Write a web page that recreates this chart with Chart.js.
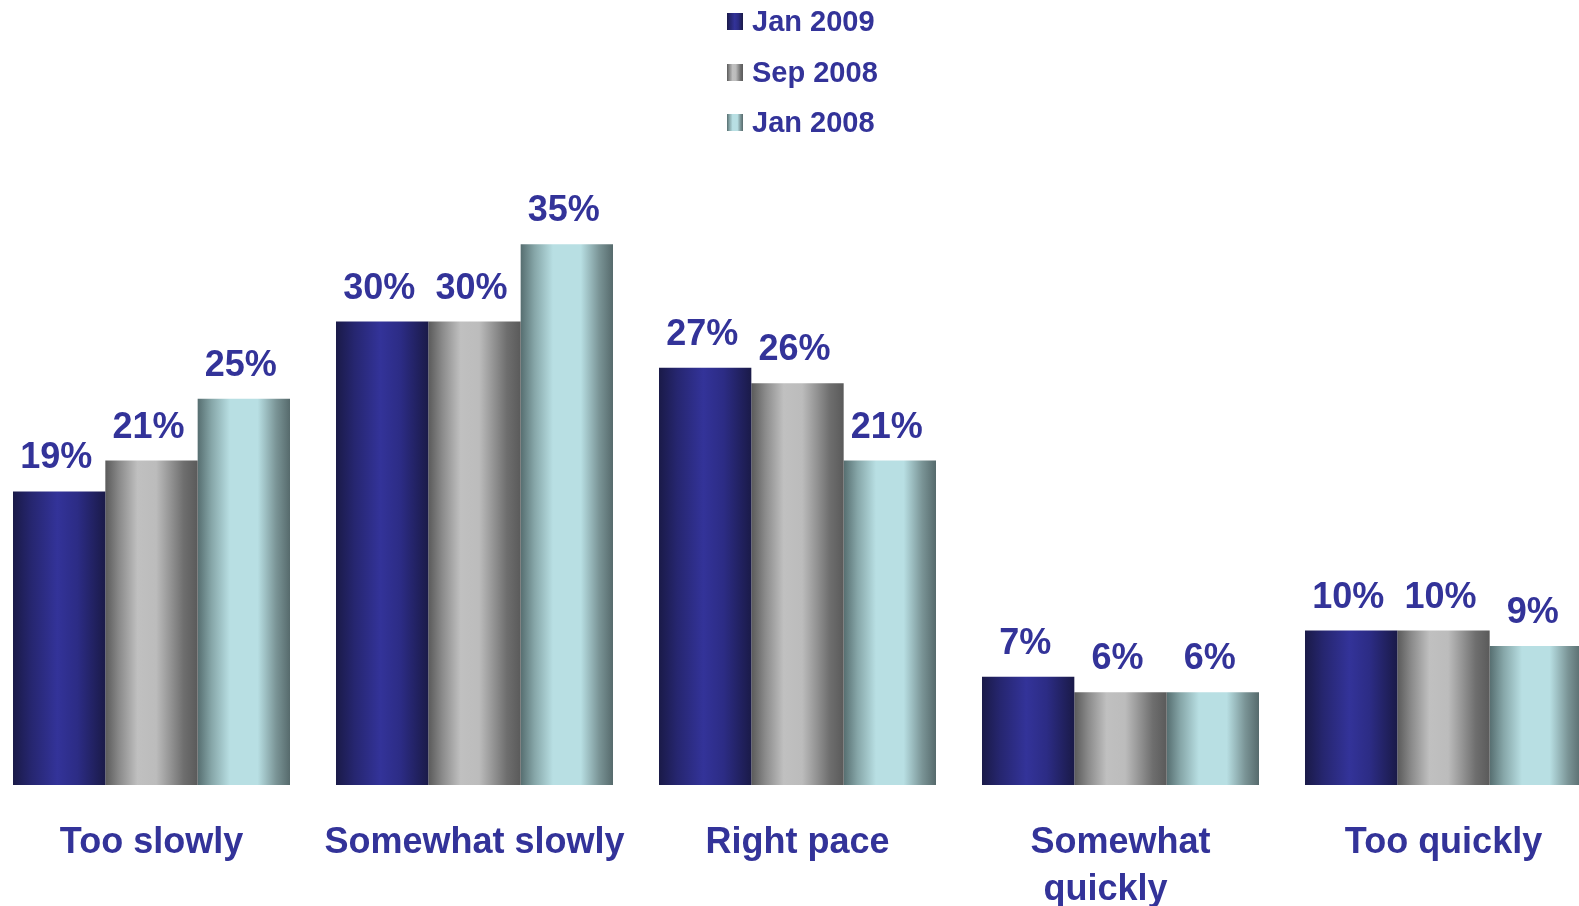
<!DOCTYPE html>
<html>
<head>
<meta charset="utf-8">
<script src="https://cdn.jsdelivr.net/npm/chart.js@4.4.1/dist/chart.umd.min.js"></script>
<style>
  html, body { margin: 0; padding: 0; background: #ffffff; overflow: hidden; }
  body { width: 1579px; height: 906px; position: relative; font-family: "Liberation Sans", Arial, sans-serif; }
  #wrap { position: absolute; left: -10px; top: 0; width: 1615px; height: 906px; }
  #legend { position: absolute; left: 727px; top: 0; }
  .lg-row { position: absolute; left: 0; white-space: nowrap; height: 40px; }
  .lg-box { position: absolute; left: 0; width: 16px; height: 17px; }
  .lg-text { position: absolute; left: 25px; top: 0; font: bold 29px "Liberation Sans", Arial, sans-serif; line-height: 32px; color: #333399; }
</style>
</head>
<body>
<div id="wrap"><canvas id="c"></canvas></div>
<div id="legend"></div>
<script>
const categories = ["Too slowly", "Somewhat slowly", "Right pace", ["Somewhat", "quickly   "], "Too quickly"];
const seriesNames = ["Jan 2009", "Sep 2008", "Jan 2008"];
const jan2009 = [19, 30, 27, 7, 10];
const sep2008 = [21, 30, 26, 6, 10];
const jan2008 = [25, 35, 21, 6, 9];

const gradientStops = [
  [[0, "#1a1a48"], [0.2, "#262670"], [0.48, "#333399"], [0.7, "#2c2c85"], [1, "#1a1a48"]],
  [[0, "#5a5a5a"], [0.15, "#8a8a8a"], [0.35, "#c0c0c0"], [0.55, "#bcbcbc"], [0.85, "#6e6e6e"], [1, "#5a5a5a"]],
  [[0, "#566e70"], [0.15, "#86a6a8"], [0.35, "#b8dfe3"], [0.65, "#b8dfe3"], [0.85, "#7a9496"], [1, "#566a6c"]]
];
const textColor = "#333399";

function makeGradient(ctx, x0, x1, stops) {
  const g = ctx.createLinearGradient(x0, 0, x1, 0);
  stops.forEach(s => g.addColorStop(s[0], s[1]));
  return g;
}

const gradientBars = {
  id: "gradientBars",
  beforeDatasetsDraw(chart) {
    const ctx = chart.ctx;
    chart.data.datasets.forEach((ds, di) => {
      const meta = chart.getDatasetMeta(di);
      meta.data.forEach(el => {
        const left = el.x - el.width / 2;
        const right = el.x + el.width / 2;
        const g = makeGradient(ctx, left, right, gradientStops[di]);
        el.options = Object.assign({}, el.options, { backgroundColor: g });
      });
    });
  }
};

const valueLabels = {
  id: "valueLabels",
  afterDatasetsDraw(chart) {
    const ctx = chart.ctx;
    ctx.save();
    ctx.font = "bold 36px 'Liberation Sans', Arial, sans-serif";
    ctx.fillStyle = textColor;
    ctx.textAlign = "center";
    ctx.textBaseline = "alphabetic";
    chart.data.datasets.forEach((ds, di) => {
      const meta = chart.getDatasetMeta(di);
      meta.data.forEach((el, i) => {
        ctx.fillText(ds.data[i] + "%", el.x - 3, el.y - 23);
      });
    });
    ctx.restore();
  }
};

const seriesData = [jan2009, sep2008, jan2008];
const chart = new Chart(document.getElementById("c"), {
  type: "bar",
  data: {
    labels: categories,
    datasets: seriesNames.map((name, i) => ({
      label: name,
      data: seriesData[i],
      backgroundColor: gradientStops[i][2][1],
      borderWidth: 0,
      categoryPercentage: 0.8576,
      barPercentage: 1.0
    }))
  },
  options: {
    responsive: true,
    maintainAspectRatio: false,
    animation: false,
    layout: { padding: { top: 167, left: 0, right: 0, bottom: 0 } },
    plugins: { legend: { display: false }, tooltip: { enabled: false } },
    scales: {
      y: { display: false, min: 0, max: 40 },
      x: {
        grid: { display: false, drawTicks: false },
        border: { display: false },
        offset: true,
        ticks: {
          color: textColor,
          padding: 35,
          maxRotation: 0,
          autoSkip: false,
          font: { family: "'Liberation Sans', Arial, sans-serif", size: 36, weight: "bold", lineHeight: 1.3 }
        },
        afterFit(scale) { scale.height = 121; }
      }
    }
  },
  plugins: [gradientBars, valueLabels]
});

// HTML legend built from the series names
const legendEl = document.getElementById("legend");
const rowTops = [5, 55.5, 106];
seriesNames.forEach((name, i) => {
  const row = document.createElement("div");
  row.className = "lg-row";
  row.style.top = rowTops[i] + "px";
  const box = document.createElement("div");
  box.className = "lg-box";
  box.style.top = "8px";
  box.style.background = "linear-gradient(to right, " + gradientStops[i].map(s => s[1] + " " + (s[0] * 100) + "%").join(", ") + ")";
  const txt = document.createElement("div");
  txt.className = "lg-text";
  txt.textContent = name;
  row.appendChild(box);
  row.appendChild(txt);
  legendEl.appendChild(row);
});
</script>
</body>
</html>
